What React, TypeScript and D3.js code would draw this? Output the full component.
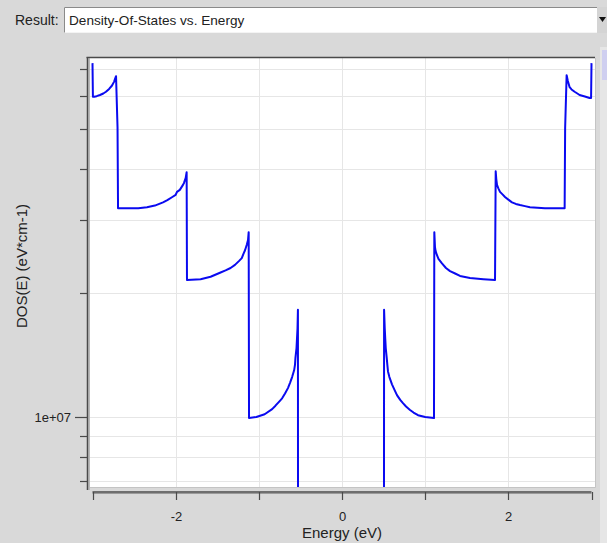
import React from "react";
import * as d3 from "d3";

// Density of states of the quantised sub-bands, valence side (E < 0)
const valenceEnergy = [
  -3.0, -2.995, -2.98, -2.95, -2.91, -2.87, -2.838, -2.8, -2.765, -2.74, -2.717,
  -2.699, -2.693, -2.549, -2.45, -2.345, -2.25, -2.152, -2.1, -2.04, -2.0, -1.984,
  -1.95, -1.912, -1.9, -1.88, -1.868, -1.864, -1.7, -1.58, -1.467, -1.4, -1.34,
  -1.287, -1.24, -1.205, -1.185, -1.166, -1.145, -1.13, -1.122, -1.118, -1.03,
  -0.93, -0.84, -0.8, -0.755, -0.72, -0.685, -0.65, -0.625, -0.6, -0.575, -0.565,
  -0.56, -0.547, -0.535, -0.53, -0.529,
];
const valenceDos = [
  7.23e7, 5.99e7, 5.99e7, 6.01e7, 6.05e7, 6.1e7, 6.16e7, 6.26e7, 6.38e7, 6.52e7, 6.72e7,
  5.05e7, 3.21e7, 3.21e7, 3.21e7, 3.23e7, 3.26e7, 3.32e7, 3.36e7, 3.42e7, 3.46e7, 3.52e7,
  3.56e7, 3.66e7, 3.7e7, 3.8e7, 3.93e7, 2.15e7, 2.16e7, 2.19e7, 2.24e7, 2.27e7, 2.3e7,
  2.34e7, 2.39e7, 2.43e7, 2.49e7, 2.54e7, 2.62e7, 2.69e7, 2.81e7, 0.994e7, 1.0e7,
  1.015e7, 1.045e7, 1.065e7, 1.09e7, 1.11e7, 1.14e7, 1.175e7, 1.21e7, 1.25e7, 1.3e7, 1.34e7,
  1.39e7, 1.47e7, 1.64e7, 1.82e7, 0,
];

// Conduction side (E > 0)
const conductionEnergy = [
  0.505, 0.506, 0.514, 0.52, 0.526, 0.538, 0.545, 0.553, 0.57, 0.601, 0.63, 0.661,
  0.7, 0.733, 0.77, 0.818, 0.86, 0.914, 1.0, 1.106, 1.11, 1.118, 1.125, 1.142, 1.16,
  1.202, 1.25, 1.299, 1.36, 1.419, 1.539, 1.7, 1.84, 1.848, 1.855, 1.864, 1.88, 1.9,
  1.93, 1.96, 2.0, 2.044, 2.09, 2.14, 2.2, 2.26, 2.35, 2.44, 2.677, 2.683, 2.701,
  2.715, 2.737, 2.76, 2.797, 2.83, 2.857, 2.92, 2.977, 2.995, 3.0,
];
const conductionDos = [
  0, 1.82e7, 1.64e7, 1.55e7, 1.47e7, 1.39e7, 1.34e7, 1.29e7, 1.25e7, 1.2e7, 1.165e7, 1.13e7,
  1.1e7, 1.08e7, 1.06e7, 1.04e7, 1.025e7, 1.01e7, 1.0e7, 0.994e7, 2.81e7, 2.585e7, 2.53e7, 2.47e7, 2.42e7,
  2.36e7, 2.3e7, 2.26e7, 2.23e7, 2.2e7, 2.175e7, 2.16e7, 2.15e7, 3.95e7, 3.78e7, 3.66e7, 3.59e7, 3.52e7,
  3.47e7, 3.42e7, 3.37e7, 3.32e7, 3.29e7, 3.27e7, 3.25e7, 3.23e7, 3.22e7, 3.21e7, 3.21e7, 5.03e7, 6.76e7,
  6.55e7, 6.32e7, 6.24e7, 6.16e7, 6.1e7, 6.05e7, 6.0e7, 5.95e7, 5.95e7, 7.23e7,
];

const xDomain = [-3, 3];
const yDomain = [6.76e6, 7.44e7];
const xTickValues = [-3, -2, -1, 0, 1, 2, 3];
const xTickLabels = ["", "-2", "", "0", "", "2", ""];
const yTickValues = [7e6, 8e6, 9e6, 1e7, 2e7, 3e7, 4e7, 5e7, 6e7, 7e7];
const yTickLabels = ["", "", "", "1e+07", "", "", "", "", "", ""];

const resultLabel = "Result:";
const resultChoice = "Density-Of-States vs. Energy";
const xTitle = "Energy (eV)";
const yTitle = "DOS(E) (eV*cm-1)";

const W = 607;
const H = 543;
const plot = { left: 90, right: 595, top: 58, bottom: 487 };
const FONT = "'Liberation Sans', Arial, Helvetica, sans-serif";
const BG = "#d9d9d9";
const AXIS = "#4a4a4a";
const GRID = "#e6e6e6";
const CURVE = "#0a0af0";

export default function App() {
  const x = d3.scaleLinear().domain(xDomain).range([92.5, 591.5]);
  const y = d3.scaleLog().domain(yDomain).range([plot.bottom, plot.top]);

  const line = d3
    .line<[number, number]>()
    .x((d) => x(d[0]))
    .y((d) => y(Math.max(d[1], yDomain[0])));

  const valence: [number, number][] = valenceEnergy.map((e, i) => [e, valenceDos[i]]);
  const conduction: [number, number][] = conductionEnergy.map((e, i) => [e, conductionDos[i]]);

  const xAxisY = 492;
  const yAxisX = 87.5;

  return (
    <svg
      width={W}
      height={H}
      viewBox={`0 0 ${W} ${H}`}
      style={{ position: "absolute", left: 0, top: 0, display: "block" }}
      fontFamily={FONT}
    >
      <rect x={0} y={0} width={W} height={H} fill={BG} />

      {/* result selector */}
      <text x={15} y={25} fontSize={14} fill="#222">
        {resultLabel}
      </text>
      <rect x={64} y={7} width={533} height={26} fill="#fff" />
      <path d="M64.5,33 V7.5 H597" fill="none" stroke="#8a8a8a" strokeWidth={1} />
      <path d="M64.5,32.5 H597" fill="none" stroke="#f4f4f4" strokeWidth={1} />
      <text x={69} y={25} fontSize={13.6} fill="#222">
        {resultChoice}
      </text>
      <rect x={597} y={7} width={10} height={26} fill="#d4d4d4" />
      <path d="M599,17 L606,17 L602.5,22 Z" fill="#111" />

      {/* side strip */}
      <rect x={600} y={47} width={7} height={H - 47} fill="#e6e6e6" />
      <rect x={602} y={50} width={5} height={30} fill="#cfcff0" />

      {/* plotting area */}
      <rect
        x={plot.left}
        y={plot.top}
        width={plot.right - plot.left}
        height={plot.bottom - plot.top}
        fill="#fff"
      />
      <defs>
        <clipPath id="plot-clip">
          <rect
            x={plot.left}
            y={plot.top}
            width={plot.right - plot.left}
            height={plot.bottom - plot.top}
          />
        </clipPath>
      </defs>

      {/* grid */}
      <g stroke={GRID} strokeWidth={1}>
        {yTickValues.map((v) => (
          <line
            key={`gy${v}`}
            x1={plot.left}
            x2={plot.right}
            y1={Math.round(y(v)) + 0.5}
            y2={Math.round(y(v)) + 0.5}
          />
        ))}
        {xTickValues.slice(1, -1).map((v) => (
          <line
            key={`gx${v}`}
            x1={Math.round(x(v)) + 0.5}
            x2={Math.round(x(v)) + 0.5}
            y1={plot.top}
            y2={plot.bottom}
          />
        ))}
      </g>

      {/* sunken frame */}
      <path
        d={`M${plot.left},${plot.bottom + 0.5} H${plot.right + 0.5} V${plot.top}`}
        fill="none"
        stroke="#c4c4c4"
        strokeWidth={1}
      />
      <path
        d={`M${yAxisX - 1},${plot.top - 0.5} H${plot.right}`}
        fill="none"
        stroke={AXIS}
        strokeWidth={1.5}
      />

      {/* curves */}
      <g clipPath="url(#plot-clip)" fill="none" stroke={CURVE} strokeWidth={2} strokeLinejoin="round">
        <path d={line(valence) ?? ""} />
        <path d={line(conduction) ?? ""} />
      </g>

      {/* y axis */}
      <line x1={yAxisX} x2={yAxisX} y1={plot.top - 1} y2={490} stroke={AXIS} strokeWidth={1.5} />
      <line x1={yAxisX + 1.5} x2={yAxisX + 1.5} y1={plot.top} y2={490} stroke="#9a9a9a" strokeWidth={1} />
      {yTickValues.map((v, i) => {
        const ty = Math.round(y(v)) + 0.5;
        const major = yTickLabels[i] !== "";
        return (
          <g key={`ty${v}`}>
            <line x1={major ? 75 : 80} x2={yAxisX} y1={ty} y2={ty} stroke={AXIS} strokeWidth={1.2} />
            {major && (
              <text x={71} y={ty} dy="0.35em" textAnchor="end" fontSize={13} fill="#222">
                {yTickLabels[i]}
              </text>
            )}
          </g>
        );
      })}
      <text
        transform={`translate(27,${266}) rotate(-90)`}
        textAnchor="middle"
        fontSize={15}
        fill="#222"
      >
        {yTitle}
      </text>

      {/* x axis */}
      <line x1={x(-3)} x2={x(3)} y1={xAxisY} y2={xAxisY} stroke={AXIS} strokeWidth={1.5} />
      <line x1={x(-3)} x2={x(3)} y1={xAxisY + 1.5} y2={xAxisY + 1.5} stroke="#9a9a9a" strokeWidth={1} />
      {xTickValues.map((v, i) => {
        const tx = Math.round(x(v)) + 0.5;
        return (
          <g key={`tx${v}`}>
            <line x1={tx} x2={tx} y1={xAxisY} y2={xAxisY + 8} stroke={AXIS} strokeWidth={1.2} />
            {xTickLabels[i] !== "" && (
              <text x={tx} y={521} textAnchor="middle" fontSize={13} fill="#222">
                {xTickLabels[i]}
              </text>
            )}
          </g>
        );
      })}
      <text x={342} y={538} textAnchor="middle" fontSize={15} fill="#222">
        {xTitle}
      </text>
    </svg>
  );
}
